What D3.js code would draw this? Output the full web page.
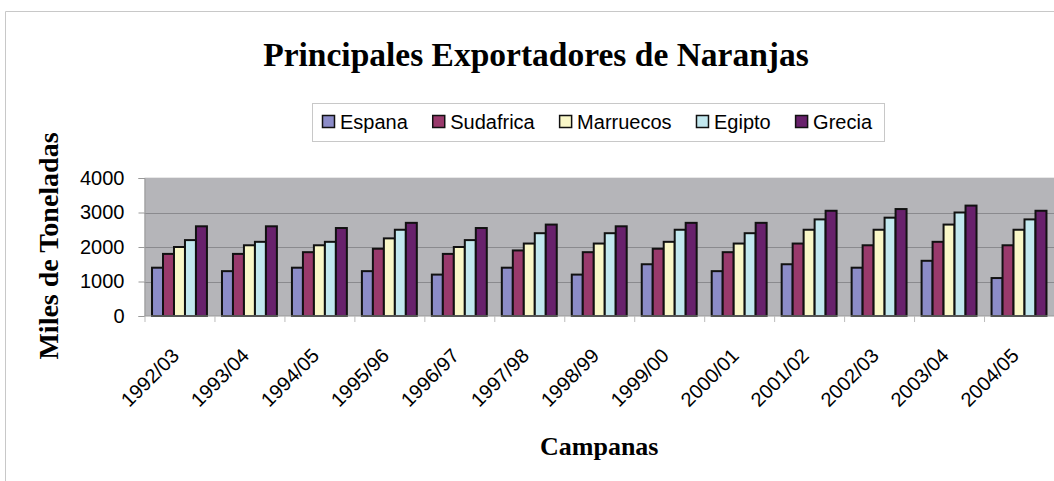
<!DOCTYPE html>
<html>
<head>
<meta charset="utf-8">
<script src="https://cdn.jsdelivr.net/npm/d3@7"></script>
<style>
  body { margin: 0; background: #fff; }
  svg { display: block; }
</style>
</head>
<body>
<script>
const campanas = ["1992/03", "1993/04", "1994/05", "1995/96", "1996/97", "1997/98", "1998/99",
    "1999/00", "2000/01", "2001/02", "2002/03", "2003/04", "2004/05"];
const paises = ["Espana", "Sudafrica", "Marruecos", "Egipto", "Grecia"];
const espana    = [1400, 1300, 1400, 1300, 1200, 1400, 1200, 1500, 1300, 1500, 1400, 1600, 1100];
const sudafrica = [1800, 1800, 1850, 1950, 1800, 1900, 1850, 1950, 1850, 2100, 2050, 2150, 2050];
const marruecos = [2000, 2050, 2050, 2250, 2000, 2100, 2100, 2150, 2100, 2500, 2500, 2650, 2500];
const egipto    = [2200, 2150, 2150, 2500, 2200, 2400, 2400, 2500, 2400, 2800, 2850, 3000, 2800];
const grecia    = [2600, 2600, 2550, 2700, 2550, 2650, 2600, 2700, 2700, 3050, 3100, 3200, 3050];
const yTicks = [0, 1000, 2000, 3000, 4000];
const colores = ["#8c8cc8", "#993a6c", "#f9f7c8", "#c2e8ef", "#68216c"];

const valores = [espana, sudafrica, marruecos, egipto, grecia];

const W = 1054, H = 481;
const svg = d3.select("body").append("svg")
    .attr("width", W)
    .attr("height", H);

// outer chart border (cut off on right and bottom)
svg.append("path")
    .attr("d", "M5.5," + H + "V11.5H" + W)
    .attr("fill", "none")
    .attr("stroke", "#c8c8c8");

const pLeft = 144.5, pRight = 1054, pTop = 178, pBottom = 316;

const x0 = d3.scaleBand().domain(campanas).range([pLeft, pRight]).padding(0);
const bw = x0.bandwidth();
const gap = bw * 0.215;
const x1 = d3.scaleBand().domain(paises).range([gap / 2, bw - gap / 2]).padding(0);
const y = d3.scaleLinear().domain([0, 4000]).range([pBottom, pTop]);

// plot area
svg.append("rect")
    .attr("x", pLeft).attr("y", pTop)
    .attr("width", pRight - pLeft).attr("height", pBottom - pTop)
    .attr("fill", "#b5b5b9");

svg.append("line")
    .attr("x1", pLeft).attr("x2", pRight)
    .attr("y1", pTop - 0.5).attr("y2", pTop - 0.5)
    .attr("stroke", "#e8e8e8");

// gridlines
svg.append("g")
    .selectAll("line")
    .data(yTicks.slice(1, -1))
    .join("line")
    .attr("x1", pLeft).attr("x2", pRight)
    .attr("y1", d => Math.round(y(d)) + 0.5)
    .attr("y2", d => Math.round(y(d)) + 0.5)
    .attr("stroke", "#8a8a8e")
    .attr("stroke-width", 1.2);

// bars
const grupos = svg.append("g")
    .selectAll("g")
    .data(campanas)
    .join("g")
    .attr("transform", d => `translate(${x0(d)},0)`);

grupos.selectAll("rect")
    .data((d, i) => paises.map((p, j) => ({ pais: p, v: valores[j][i], c: colores[j] })))
    .join("rect")
    .attr("x", d => x1(d.pais))
    .attr("y", d => y(d.v))
    .attr("width", x1.bandwidth())
    .attr("height", d => pBottom - y(d.v))
    .attr("fill", d => d.c)
    .attr("stroke", "#111")
    .attr("stroke-width", 2);

// axes
const yAxis = svg.append("g")
    .attr("transform", `translate(${pLeft},0)`)
    .call(d3.axisLeft(y).tickValues(yTicks).tickSize(6).tickPadding(14).tickFormat(d3.format("d")));
yAxis.select(".domain").attr("stroke", "#999");
yAxis.selectAll(".tick line").attr("stroke", "#999");
yAxis.selectAll("text")
    .attr("font-family", "Arial, 'Liberation Sans', sans-serif")
    .attr("font-size", 20)
    .attr("fill", "#000");

const xAxis = svg.append("g")
    .attr("transform", `translate(0,${pBottom})`);
xAxis.append("line")
    .attr("x1", pLeft).attr("x2", pRight)
    .attr("stroke", "#999");
xAxis.selectAll(".tk")
    .data(campanas)
    .join("line")
    .attr("class", "tk")
    .attr("x1", d => x0(d) + 0.5).attr("x2", d => x0(d) + 0.5)
    .attr("y1", 0).attr("y2", 6)
    .attr("stroke", "#bbb");
xAxis.selectAll("text")
    .data(campanas)
    .join("text")
    .attr("transform", d => `translate(${x0(d) + bw / 2 + 1},${41}) rotate(-45)`)
    .attr("text-anchor", "end")
    .attr("font-family", "Arial, 'Liberation Sans', sans-serif")
    .attr("font-size", 20)
    .text(d => d);

// titles
svg.append("text")
    .attr("x", 536).attr("y", 66)
    .attr("text-anchor", "middle")
    .attr("font-family", "'Times New Roman', 'Liberation Serif', serif")
    .attr("font-weight", "bold")
    .attr("font-size", 33.5)
    .text("Principales Exportadores de Naranjas");

svg.append("text")
    .attr("x", (pLeft + pRight) / 2).attr("y", 455)
    .attr("text-anchor", "middle")
    .attr("font-family", "'Times New Roman', 'Liberation Serif', serif")
    .attr("font-weight", "bold")
    .attr("font-size", 26)
    .text("Campanas");

svg.append("text")
    .attr("transform", "translate(58,246) rotate(-90)")
    .attr("text-anchor", "middle")
    .attr("font-family", "'Times New Roman', 'Liberation Serif', serif")
    .attr("font-weight", "bold")
    .attr("font-size", 28)
    .text("Miles de Toneladas");

// legend
const legend = svg.append("g");
legend.append("rect")
    .attr("x", 312.5).attr("y", 103.5)
    .attr("width", 572).attr("height", 38)
    .attr("fill", "#fff")
    .attr("stroke", "#c8c8c8");

const items = legend.selectAll("g.item")
    .data(paises)
    .join("g")
    .attr("class", "item");
items.append("rect")
    .attr("x", 0.5).attr("y", -6.5)
    .attr("width", 12).attr("height", 12)
    .attr("fill", (d, i) => colores[i])
    .attr("stroke", "#111")
    .attr("stroke-width", 1.5);
items.append("text")
    .attr("x", 18).attr("dy", "0.36em")
    .attr("font-family", "Arial, 'Liberation Sans', sans-serif")
    .attr("font-size", 20)
    .text(d => d);

// lay legend items out in a row, spread between 322 and 872
const anchos = [];
items.selectAll("text").each(function () { anchos.push(18 + this.getComputedTextLength()); });
const sep = (872 - 322 - d3.sum(anchos)) / (anchos.length - 1);
let cx = 322;
items.each(function (d, i) {
    d3.select(this).attr("transform", `translate(${cx},122)`);
    cx += anchos[i] + sep;
});
</script>
</body>
</html>
